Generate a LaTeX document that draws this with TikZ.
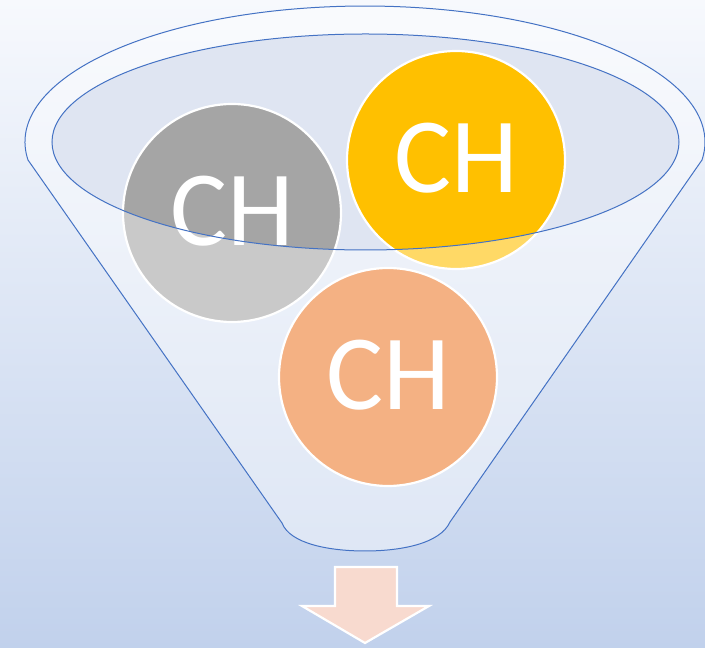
\documentclass[tikz,border=0pt]{standalone}
\usepackage{fontspec}
\setmainfont{Carlito}
\usetikzlibrary{positioning}
\definecolor{bgtop}{HTML}{F7F9FD}
\definecolor{bgmid}{HTML}{E7EEF9}
\definecolor{bgbot}{HTML}{C1D1EC}
\definecolor{rimblue}{HTML}{4472C4}
\definecolor{holefill}{HTML}{DFE5F2}
\definecolor{chgray}{HTML}{A5A5A5}
\definecolor{chgold}{HTML}{FFC000}
\definecolor{chpeach}{HTML}{F4B183}
\definecolor{arrowfill}{HTML}{F8DACF}
\tikzset{%
  ball/.style = {circle,draw=white,line width=2.2pt,minimum size=218pt,
        inner sep=0pt,text=white,font=\fontsize{107}{112}\selectfont},
  rim/.style = {draw=rimblue,line width=1pt},
  body/.style = {fill=white,fill opacity=0.4,even odd rule}
}

\begin{document}
\begin{tikzpicture}[x=1pt,y=1pt]
  \useasboundingbox (0,0) rectangle (705,648);
  \shade[top color=bgtop,middle color=bgmid,bottom color=bgbot]
    (0,0) rectangle (705,648);
  % hole of the funnel
  \fill[holefill] (365.5,506) ellipse [x radius=313.5,y radius=108];
  % balls inside the funnel
  \node[ball,fill=chgray] (grayball) at (232,435) {\raisebox{4pt}{CH}};
  \node[ball,fill=chgold] (goldball) at (456,488) {\raisebox{4pt}{CH}};
  % funnel body
  \fill[body] (28,488) arc[start angle=187.6,end angle=-7.6,
      x radius=340,y radius=136]
    -- (450,126) .. controls (440,104) and (400,97) .. (365,97)
    .. controls (330,97) and (290,104) .. (282,125) -- cycle
    (365.5,506) ellipse [x radius=313.5,y radius=108];
  \node[ball,fill=chpeach] (peachball) at (388,271) {\raisebox{4pt}{CH}};
  \draw[rim] (28,488) arc[start angle=187.6,end angle=-7.6,
      x radius=340,y radius=136]
    -- (450,126) .. controls (440,104) and (400,97) .. (365,97)
    .. controls (330,97) and (290,104) .. (282,125) -- cycle;
  \draw[rim] (365.5,506) ellipse [x radius=313.5,y radius=108];
  % arrow out of the funnel
  \draw[draw=white,line width=2.2pt,fill=arrowfill,line join=miter]
    (335,81) -- (397,81) -- (397,42) -- (429,42) -- (365,5)
    -- (302,42) -- (335,42) -- cycle;
\end{tikzpicture}
\end{document}
